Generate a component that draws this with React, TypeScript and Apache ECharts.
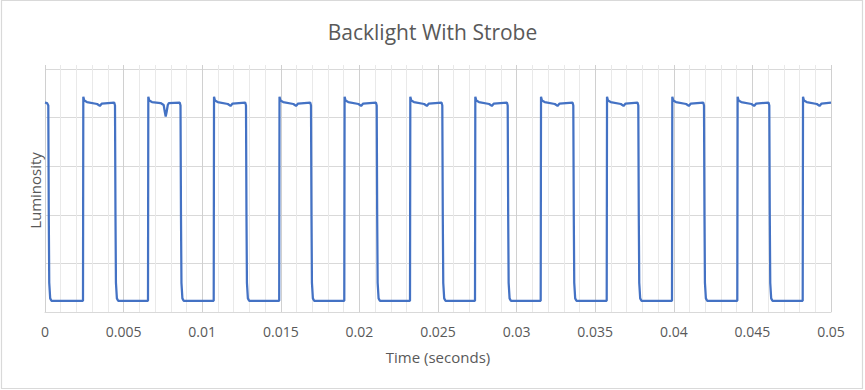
import React, { useEffect, useRef } from "react";
import * as echarts from "echarts";

const chartTitle = "Backlight With Strobe";
const xAxisTitle = "Time (seconds)";
const yAxisTitle = "Luminosity";

// x-axis range and tick step (seconds)
const xMin = 0;
const xMax = 0.05;
const xStep = 0.005;

// y-axis (no tick labels shown): gridline range
const yMin = 0;
const yMax = 5;
const yStep = 1;

// Time samples (seconds), one line per strobe pulse
const timeSec: number[] = [
  0, 0.00013, 0.00021, 0.00024, 0.00027, 0.00033, 0.00041,
  0.002417, 0.002437, 0.002497, 0.002667, 0.003317, 0.003487, 0.003617, 0.004403, 0.004453, 0.004483, 0.004513, 0.004573, 0.004653,
  0.006552, 0.006572, 0.006632, 0.006802, 0.007352, 0.00755, 0.00762, 0.007678, 0.00774, 0.00781, 0.00788, 0.00857, 0.00862, 0.00865, 0.00868, 0.00874, 0.00882,
  0.010732, 0.010752, 0.010812, 0.010982, 0.011632, 0.011802, 0.011932, 0.012736, 0.012786, 0.012816, 0.012846, 0.012906, 0.012986,
  0.014898, 0.014918, 0.014978, 0.015148, 0.015798, 0.015968, 0.016098, 0.016871, 0.016921, 0.016951, 0.016981, 0.017041, 0.017121,
  0.019039, 0.019059, 0.019119, 0.019289, 0.019939, 0.020109, 0.020239, 0.021051, 0.021101, 0.021131, 0.021161, 0.021221, 0.021301,
  0.023219, 0.023239, 0.023299, 0.023469, 0.024119, 0.024289, 0.024419, 0.025224, 0.025274, 0.025304, 0.025334, 0.025394, 0.025474,
  0.027354, 0.027374, 0.027434, 0.027604, 0.028254, 0.028424, 0.028554, 0.029384, 0.029434, 0.029464, 0.029494, 0.029554, 0.029634,
  0.031533, 0.031553, 0.031613, 0.031783, 0.032433, 0.032603, 0.032733, 0.033557, 0.033607, 0.033637, 0.033667, 0.033727, 0.033807,
  0.035732, 0.035752, 0.035812, 0.035982, 0.036632, 0.036802, 0.036932, 0.037692, 0.037742, 0.037772, 0.037802, 0.037862, 0.037942,
  0.039885, 0.039905, 0.039965, 0.040135, 0.040785, 0.040955, 0.041085, 0.041871, 0.041921, 0.041951, 0.041981, 0.042041, 0.042121,
  0.04404, 0.04406, 0.04412, 0.04429, 0.04494, 0.04511, 0.04524, 0.046025, 0.046075, 0.046105, 0.046135, 0.046195, 0.046275,
  0.0482, 0.04822, 0.04828, 0.04845, 0.0491, 0.04927, 0.0494, 0.05,
];

// Luminosity samples (arbitrary units), aligned with timeSec
const luminosity: number[] = [
  4.31, 4.3, 4.25, 2.0, 0.6, 0.28, 0.23,
  0.23, 4.43, 4.35, 4.32, 4.28, 4.24, 4.29, 4.31, 4.25, 2.0, 0.6, 0.28, 0.23,
  0.23, 4.43, 4.35, 4.32, 4.3, 4.26, 4.12, 4.02, 4.12, 4.26, 4.3, 4.31, 4.25, 2.0, 0.6, 0.28, 0.23,
  0.23, 4.43, 4.35, 4.32, 4.28, 4.24, 4.29, 4.31, 4.25, 2.0, 0.6, 0.28, 0.23,
  0.23, 4.43, 4.35, 4.32, 4.28, 4.24, 4.29, 4.31, 4.25, 2.0, 0.6, 0.28, 0.23,
  0.23, 4.43, 4.35, 4.32, 4.28, 4.24, 4.29, 4.31, 4.25, 2.0, 0.6, 0.28, 0.23,
  0.23, 4.43, 4.35, 4.32, 4.28, 4.24, 4.29, 4.31, 4.25, 2.0, 0.6, 0.28, 0.23,
  0.23, 4.43, 4.35, 4.32, 4.28, 4.24, 4.29, 4.31, 4.25, 2.0, 0.6, 0.28, 0.23,
  0.23, 4.43, 4.35, 4.32, 4.28, 4.24, 4.29, 4.31, 4.25, 2.0, 0.6, 0.28, 0.23,
  0.23, 4.43, 4.35, 4.32, 4.28, 4.24, 4.29, 4.31, 4.25, 2.0, 0.6, 0.28, 0.23,
  0.23, 4.43, 4.35, 4.32, 4.28, 4.24, 4.29, 4.31, 4.25, 2.0, 0.6, 0.28, 0.23,
  0.23, 4.43, 4.35, 4.32, 4.28, 4.24, 4.29, 4.31, 4.25, 2.0, 0.6, 0.28, 0.23,
  0.23, 4.43, 4.35, 4.32, 4.28, 4.24, 4.29, 4.31,
];

const FONT = "'Open Sans', 'Noto Sans', sans-serif";
const TEXT = "#595959";

export default function App() {
  const ref = useRef<HTMLDivElement>(null);

  useEffect(() => {
    if (!ref.current) return;
    const chart = echarts.init(ref.current, undefined, { renderer: "svg" });
    const data = timeSec.map((t, i) => [t, luminosity[i]]);

    chart.setOption({
      animation: false,
      backgroundColor: "#ffffff",
      title: {
        text: chartTitle,
        left: "center",
        top: 16,
        textStyle: { fontFamily: FONT, fontSize: 21, fontWeight: "normal", color: TEXT },
      },
      graphic: [
        {
          type: "rect",
          shape: { x: 1.5, y: 0.5, width: 861, height: 388 },
          style: { fill: "none", stroke: "#d9d9d9", lineWidth: 1.2 },
          silent: true,
        },
      ],
      grid: [
        { left: 45, right: 34, top: 65, bottom: 78, containLabel: false },
        { left: 45, right: 34, top: 69, bottom: 78, containLabel: false },
      ],
      xAxis: [
        {
          gridIndex: 0,
          type: "value",
          min: xMin,
          max: xMax,
          interval: xStep,
          axisLine: { show: false },
          axisTick: { show: false },
          axisLabel: { show: false },
          splitLine: { show: true, lineStyle: { color: "#d0d0d0", width: 1 } },
          minorTick: { show: false, splitNumber: 5 },
          minorSplitLine: { show: true, lineStyle: { color: "#e9e9e9", width: 1 } },
        },
        {
          gridIndex: 1,
          type: "value",
          min: xMin,
          max: xMax,
          interval: xStep,
          name: xAxisTitle,
          nameLocation: "middle",
          nameGap: 37,
          nameTextStyle: { fontFamily: FONT, fontSize: 15, color: TEXT },
          axisLine: { show: true, lineStyle: { color: "#d9d9d9", width: 1 } },
          axisTick: { show: false },
          axisLabel: { show: true, margin: 12, fontFamily: FONT, fontSize: 14, color: TEXT },
          splitLine: { show: false },
        },
      ],
      yAxis: [
        {
          gridIndex: 0,
          type: "value",
          min: yMin,
          max: yMax,
          interval: yStep,
          show: false,
          splitLine: { show: false },
        },
        {
          gridIndex: 1,
          type: "value",
          min: yMin,
          max: yMax,
          interval: yStep,
          name: yAxisTitle,
          nameLocation: "middle",
          nameGap: 3,
          nameRotate: 90,
          nameTextStyle: { fontFamily: FONT, fontSize: 15, color: TEXT },
          axisLine: { show: false },
          axisTick: { show: false },
          axisLabel: { show: false },
          splitLine: { show: true, lineStyle: { color: "#d9d9d9", width: 1 } },
        },
      ],
      series: [
        {
          type: "line",
          xAxisIndex: 1,
          yAxisIndex: 1,
          data,
          showSymbol: false,
          symbol: "none",
          lineStyle: { color: "#4472C4", width: 2.25 },
          itemStyle: { color: "#4472C4" },
        },
      ],
    });

    return () => chart.dispose();
  }, []);

  return (
    <div
      ref={ref}
      style={{ position: "absolute", left: 0, top: 0, width: 865, height: 390 }}
    />
  );
}
